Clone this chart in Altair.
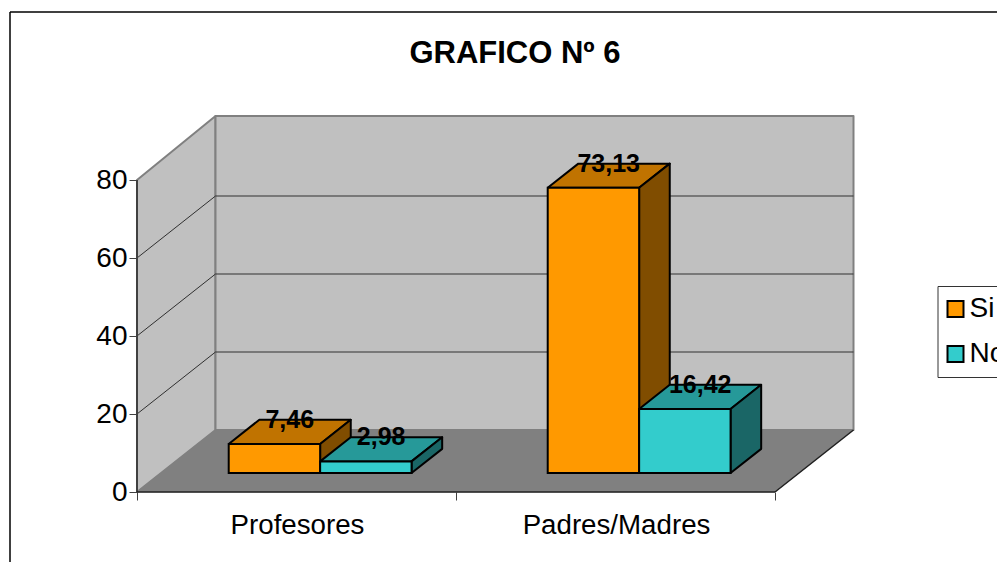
import altair as alt
import pandas as pd

categories = ["Profesores", "Padres/Madres"]
series = ["Si", "No"]
si_values = [7.46, 73.13]
no_values = [2.98, 16.42]
label_text = {7.46: "7,46", 2.98: "2,98", 73.13: "73,13", 16.42: "16,42"}
y_ticks = [0, 20, 40, 60, 80]

# oblique projection: u in categories, v in axis units, d = depth 0..1
CAT_PX = 319.0
PX_PER_UNIT = 3.9
DEPTH_X = 78.5 / CAT_PX
DEPTH_Y = 62.0 / PX_PER_UNIT
W, H = 718, 376
BAR_OFF = 0.2122
BAR_W = 0.2866
D0, D1 = 0.306, 0.696
WALL_TOP = 80.5


def P(u, v, d):
    return u + d * DEPTH_X, v + d * DEPTH_Y


def poly(pid, pts, fill, stroke):
    rows = []
    for i, (u, v, d) in enumerate(list(pts) + [pts[0]]):
        x, y = P(u, v, d)
        rows.append(dict(id=pid, i=i, x=x, y=y, fill=fill, stroke=stroke))
    return rows


xs = alt.Scale(domain=[0, W / CAT_PX], nice=False, zero=False)
ys = alt.Scale(domain=[0, H / PX_PER_UNIT], nice=False, zero=False)
x_axis = alt.Axis(values=[0, 1, 2], domain=False, grid=False, labels=False,
                  tickColor="#404040", tickSize=8, title=None)
y_axis = alt.Axis(values=y_ticks, domain=False, grid=False, tickColor="#404040",
                  tickSize=8, labelFontSize=28, labelFont="Liberation Sans",
                  labelColor="black", labelPadding=2, title=None)
X = alt.X("x:Q", scale=xs, axis=x_axis)
Y = alt.Y("y:Q", scale=ys, axis=y_axis)


def polys(rows, width):
    return (
        alt.Chart(pd.DataFrame(rows))
        .mark_line(strokeWidth=width, strokeJoin="round")
        .encode(
            x=X, y=Y,
            detail="id:N",
            order="i:Q",
            fill=alt.Fill("fill:N", scale=None),
            stroke=alt.Stroke("stroke:N", scale=None),
        )
    )


def lines(rows, color, width):
    return (
        alt.Chart(pd.DataFrame(rows))
        .mark_line(color=color, strokeWidth=width)
        .encode(x=X, y=Y, detail="id:N", order="i:Q")
    )


def seg(pid, a, b):
    ax, ay = P(*a)
    bx, by = P(*b)
    return [dict(id=pid, i=0, x=ax, y=ay), dict(id=pid, i=1, x=bx, y=by)]


# Walls and floor
walls = poly("left", [(0, 0, 0), (0, 80, 0), (0, WALL_TOP, 1), (0, 0, 1)], "#C0C0C0", "#808080")
walls += poly("back", [(0, 0, 1), (0, WALL_TOP, 1), (2, WALL_TOP, 1), (2, 0, 1)], "#C0C0C0", "#808080")
floor = poly("floor", [(0, 0, 0), (2, 0, 0), (2, 0, 1), (0, 0, 1)], "#808080", "#808080")

grid = []
for t in y_ticks[1:-1]:
    grid += seg(f"d{t}", (0, t, 0), (0, t, 1)) + seg(f"h{t}", (0, t, 1), (2, t, 1))
edges = seg("ax", (0, 0, 0), (0, 80, 0))
base = seg("base", (0, 0, 0), (2, 0, 0)) + seg("diag", (2, 0, 0), (2, 0, 1))

# Bars
faces, fronts, labels = [], [], []
colors = {"Si": ("#C07300", "#804D00"), "No": ("#269999", "#1A6666")}
for c, cat in enumerate(categories):
    for s, (name, vals) in enumerate(zip(series, [si_values, no_values])):
        v = vals[c]
        u0 = c + BAR_OFF + s * BAR_W
        u1 = u0 + BAR_W
        top, side = colors[name]
        faces += poly(f"{c}{s}t", [(u0, v, D0), (u1, v, D0), (u1, v, D1), (u0, v, D1)], top, "black")
        faces += poly(f"{c}{s}s", [(u1, 0, D0), (u1, v, D0), (u1, v, D1), (u1, 0, D1)], side, "black")
        x0, y0 = P(u0, 0, D0)
        x1, y1 = P(u1, v, D0)
        fronts.append(dict(x=x0, x2=x1, y=y0, y2=y1, s=name))
        lx, _ = P((u0 + u1) / 2, v, (D0 + D1) / 2)
        _, ly = P(u0, v, D1)
        labels.append(dict(x=lx, y=ly, t=label_text[v]))

axis_layer = (
    alt.Chart(pd.DataFrame({"x": [0, 1, 2], "y": [0, 20, 40]}))
    .mark_point(opacity=0)
    .encode(x=X, y=Y)
)

front_layer = (
    alt.Chart(pd.DataFrame(fronts))
    .mark_bar(stroke="black", strokeWidth=2)
    .encode(
        x=X, x2="x2:Q",
        y=Y, y2="y2:Q",
        color=alt.Color(
            "s:N",
            scale=alt.Scale(domain=series, range=["#FF9900", "#33CCCC"]),
            legend=alt.Legend(
                title=None, orient="none", legendX=800.5, legendY=170, symbolType="square",
                symbolSize=256, symbolStrokeColor="black", symbolStrokeWidth=2,
                labelFontSize=28, labelFont="Liberation Sans", labelColor="black",
                fillColor="white", strokeColor="#333333", padding=9, rowPadding=17,
                symbolOffset=-5, labelOffset=0, labelLimit=200,
            ),
        ),
    )
)

label_layer = (
    alt.Chart(pd.DataFrame(labels))
    .mark_text(font="Liberation Sans", fontSize=25, fontWeight="bold", color="black", baseline="middle")
    .encode(x=X, y=Y, text="t:N")
)

cat_layer = (
    alt.Chart(pd.DataFrame({"x": [0.5, 1.5], "y": [0, 0], "t": categories}))
    .mark_text(font="Liberation Sans", fontSize=27.7, color="black", baseline="middle", dx=1, dy=34)
    .encode(x=X, y=Y, text="t:N")
)

border_top = alt.Chart(pd.DataFrame({"a": [0]})).mark_rule(color="black", strokeWidth=1.5).encode(
    x=alt.value(-127), x2=alt.value(900), y=alt.value(-104)
)
border_left = alt.Chart(pd.DataFrame({"a": [0]})).mark_rule(color="black", strokeWidth=1.5).encode(
    x=alt.value(-127), y=alt.value(-104), y2=alt.value(460)
)

chart = (
    alt.layer(
        axis_layer,
        polys(walls, 2), polys(floor, 0.5),
        lines(grid, "#303030", 1), lines(edges, "#404040", 2), lines(base, "#202020", 1.5),
        polys(faces, 2), front_layer, label_layer, cat_layer, border_top, border_left,
    )
    .properties(
        width=W, height=H,
        title=alt.TitleParams("GRAFICO Nº 6", font="Liberation Sans", fontSize=31, fontWeight="bold",
                              color="black", anchor="middle", dx=19, dy=59, offset=0),
        autosize=alt.AutoSizeParams(type="none"),
        padding={"left": 129, "top": 108, "right": 142, "bottom": 70},
        background="white",
    )
    .configure_view(stroke=None)
)

chart.save("out.html", embed_options={"renderer": "svg", "actions": False})
